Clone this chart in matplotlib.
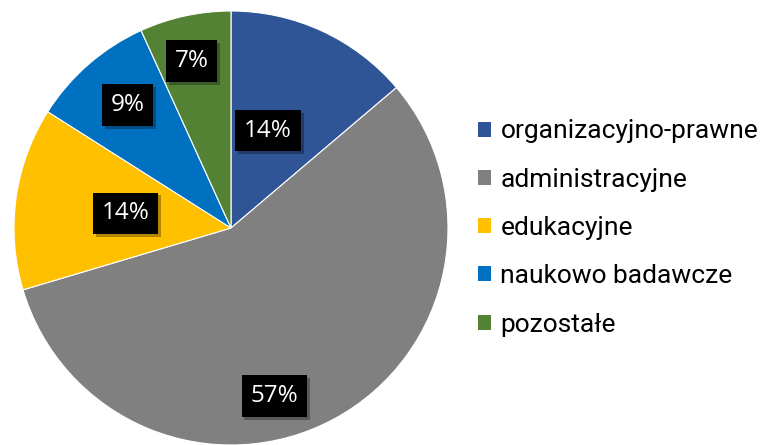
import numpy as np
import matplotlib
matplotlib.use("Agg")
import matplotlib.pyplot as plt
import matplotlib.patheffects as pe
from matplotlib.patches import Patch

# data (percent)
categories = ["organizacyjno-prawne", "administracyjne", "edukacyjne",
              "naukowo badawcze", "pozostałe"]
values = [13.8, 56.6, 13.6, 9.2, 6.8]
colors = ["#2F5597", "#808080", "#FFC000", "#0070C0", "#548235"]

# label placement (fraction of radius, angle offset in degrees)
label_dist = [0.48, 0.80, 0.49, 0.74, 0.79]
label_shift = [4, -14, 0, -1, 1]

fig = plt.figure(figsize=(7.64, 4.45), dpi=100)
ax = fig.add_axes([14 / 764, 0, 434 / 764, 434 / 445])

wedges, _ = ax.pie(values, colors=colors, startangle=90, counterclock=False,
                   wedgeprops=dict(edgecolor="white", linewidth=0.8))
ax.set_xlim(-1, 1)
ax.set_ylim(-1, 1)
ax.set_aspect("equal")

for w, v, d, s in zip(wedges, values, label_dist, label_shift):
    ang = np.deg2rad((w.theta1 + w.theta2) / 2 + s)
    t = ax.text(d * np.cos(ang), d * np.sin(ang), "%.0f%%" % v,
                ha="center", va="center", color="white", fontsize=17.5,
                family=["Open Sans", "DejaVu Sans"],
                bbox=dict(boxstyle="square,pad=0.36", fc="black", ec="none"))
    t.get_bbox_patch().set_path_effects(
        [pe.SimplePatchShadow(offset=(2, -2), alpha=0.3), pe.Normal()])

handles = [Patch(facecolor=c, edgecolor="none") for c in colors]
fig.legend(handles, categories, loc="center left",
           bbox_to_anchor=(478 / 764, 1 - 228 / 445), frameon=False,
           prop=dict(family=["Roboto", "DejaVu Sans"], size=19),
           handlelength=0.5, handleheight=0.5, handletextpad=0.35,
           labelspacing=0.92, borderpad=0, borderaxespad=0)

fig.savefig("out.png", dpi=100)
